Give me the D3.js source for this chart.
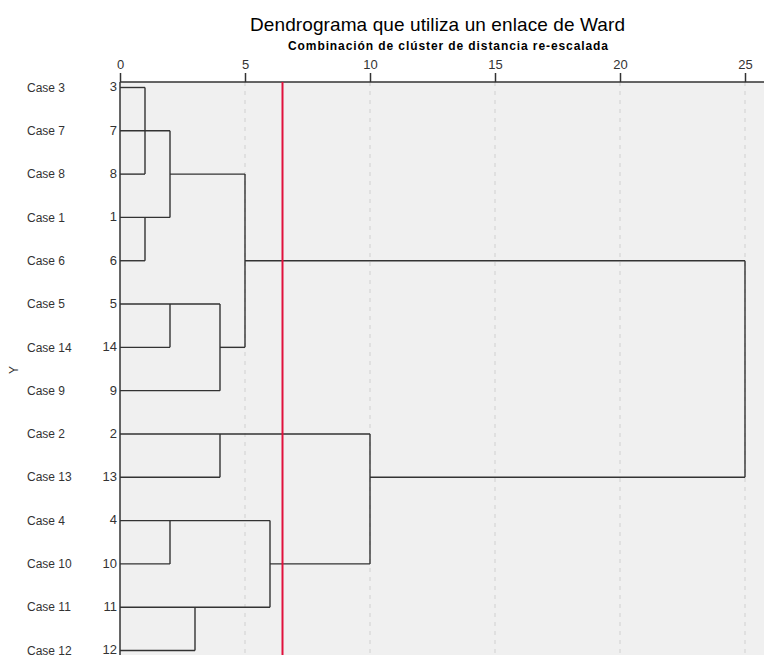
<!DOCTYPE html>
<html>
<head>
<meta charset="utf-8">
<script src="https://cdn.jsdelivr.net/npm/d3@7"></script>
<style>
  html, body { margin: 0; padding: 0; background: #fff; }
  svg { display: block; font-family: "Liberation Sans", Arial, sans-serif; }
</style>
</head>
<body>
<div id="chart"></div>
<script>
// Row order of the dendrogram (top to bottom)
var caseLabels = ["Case 3", "Case 7", "Case 8", "Case 1", "Case 6", "Case 5", "Case 14",
                  "Case 9", "Case 2", "Case 13", "Case 4", "Case 10", "Case 11", "Case 12"];
var caseNumbers = ["3", "7", "8", "1", "6", "5", "14", "9", "2", "13", "4", "10", "11", "12"];

// Horizontal segments: [row, from distance, to distance]
var hSegments = [
  [0, 0, 1], [1, 0, 2], [2, 0, 1], [2, 2, 5], [3, 0, 2], [4, 0, 1], [4, 5, 25],
  [5, 0, 4], [6, 0, 2], [6, 4, 5], [7, 0, 4], [8, 0, 10], [9, 0, 4], [9, 10, 25],
  [10, 0, 6], [11, 0, 2], [11, 6, 10], [12, 0, 6], [13, 0, 3]
];
// Vertical segments: [distance, from row, to row]
var vSegments = [
  [1, 0, 2], [2, 1, 3], [1, 3, 4], [5, 2, 6], [2, 5, 6], [4, 5, 7],
  [4, 8, 9], [10, 8, 11], [2, 10, 11], [6, 10, 12], [3, 12, 13], [25, 4, 9]
];
var xTicks = [0, 5, 10, 15, 20, 25];
var cutLine = 6.5;

var W = 764, H = 655;
var plotLeft = 120, plotRight = 764, plotTop = 82, plotBottom = 680;

var svg = d3.select("#chart").append("svg")
  .attr("width", W)
  .attr("height", H);

var x = d3.scaleLinear().domain([0, 25]).range([plotLeft, 745]);
var y = d3.scaleLinear().domain([0, 13]).range([87.5, 650.5]);

// Plot background
svg.append("rect")
  .attr("x", plotLeft).attr("y", plotTop)
  .attr("width", plotRight - plotLeft).attr("height", plotBottom - plotTop)
  .attr("fill", "#f0f0f0");

// Dashed grid
svg.append("g")
  .selectAll("line")
  .data(xTicks.slice(1))
  .join("line")
  .attr("x1", function (d) { return x(d); })
  .attr("x2", function (d) { return x(d); })
  .attr("y1", plotTop).attr("y2", plotBottom)
  .attr("stroke", "#d0d0d0")
  .attr("stroke-width", 1)
  .attr("stroke-dasharray", "4,5");

// Top axis
var axis = d3.axisTop(x).tickValues(xTicks).tickSize(9).tickPadding(4).tickSizeOuter(0);
var axisG = svg.append("g")
  .attr("transform", "translate(0," + plotTop + ")")
  .call(axis);
axisG.select(".domain").remove();
axisG.selectAll(".tick line").attr("stroke", "#333").attr("stroke-width", 1.5);
axisG.selectAll(".tick text")
  .attr("font-size", 13)
  .attr("fill", "#333")
  .attr("font-family", "'Liberation Sans', Arial, sans-serif");

svg.append("line")
  .attr("x1", plotLeft).attr("x2", plotRight)
  .attr("y1", plotTop).attr("y2", plotTop)
  .attr("stroke", "#333").attr("stroke-width", 1.5);
svg.append("line")
  .attr("x1", plotLeft).attr("x2", plotLeft)
  .attr("y1", plotTop).attr("y2", plotBottom)
  .attr("stroke", "#333").attr("stroke-width", 1.5);

// Dendrogram links
var links = svg.append("g")
  .attr("stroke", "#333")
  .attr("stroke-width", 1.4)
  .attr("fill", "none");

links.selectAll(".h")
  .data(hSegments)
  .join("line")
  .attr("class", "h")
  .attr("x1", function (d) { return x(d[1]); })
  .attr("x2", function (d) { return x(d[2]); })
  .attr("y1", function (d) { return y(d[0]); })
  .attr("y2", function (d) { return y(d[0]); });

links.selectAll(".v")
  .data(vSegments)
  .join("line")
  .attr("class", "v")
  .attr("x1", function (d) { return x(d[0]); })
  .attr("x2", function (d) { return x(d[0]); })
  .attr("y1", function (d) { return y(d[1]); })
  .attr("y2", function (d) { return y(d[2]); });

// Cut-off line
svg.append("line")
  .attr("x1", x(cutLine)).attr("x2", x(cutLine))
  .attr("y1", plotTop).attr("y2", plotBottom)
  .attr("stroke", "#e0103c")
  .attr("stroke-width", 2);

// Row labels
svg.append("g")
  .selectAll("text")
  .data(caseLabels)
  .join("text")
  .attr("x", 27)
  .attr("y", function (d, i) { return y(i); })
  .attr("dy", "0.35em")
  .attr("font-size", 12)
  .attr("fill", "#333")
  .text(function (d) { return d; });

svg.append("g")
  .selectAll("text")
  .data(caseNumbers)
  .join("text")
  .attr("x", 117)
  .attr("y", function (d, i) { return y(i); })
  .attr("dy", "0.3em")
  .attr("text-anchor", "end")
  .attr("font-size", 13)
  .attr("fill", "#333")
  .text(function (d) { return d; });

// Y axis title
svg.append("text")
  .attr("transform", "translate(18,370) rotate(-90)")
  .attr("text-anchor", "middle")
  .attr("font-size", 12)
  .attr("fill", "#333")
  .text("Y");

// Titles
svg.append("text")
  .attr("x", 437.5).attr("y", 31)
  .attr("text-anchor", "middle")
  .attr("font-size", 19)
  .attr("fill", "#000")
  .attr("textLength", 375)
  .attr("lengthAdjust", "spacing")
  .text("Dendrograma que utiliza un enlace de Ward");

svg.append("text")
  .attr("x", 448).attr("y", 50)
  .attr("text-anchor", "middle")
  .attr("font-size", 12)
  .attr("font-weight", "bold")
  .attr("fill", "#000")
  .attr("textLength", 320)
  .attr("lengthAdjust", "spacing")
  .text("Combinación de clúster de distancia re-escalada");
</script>
</body>
</html>
